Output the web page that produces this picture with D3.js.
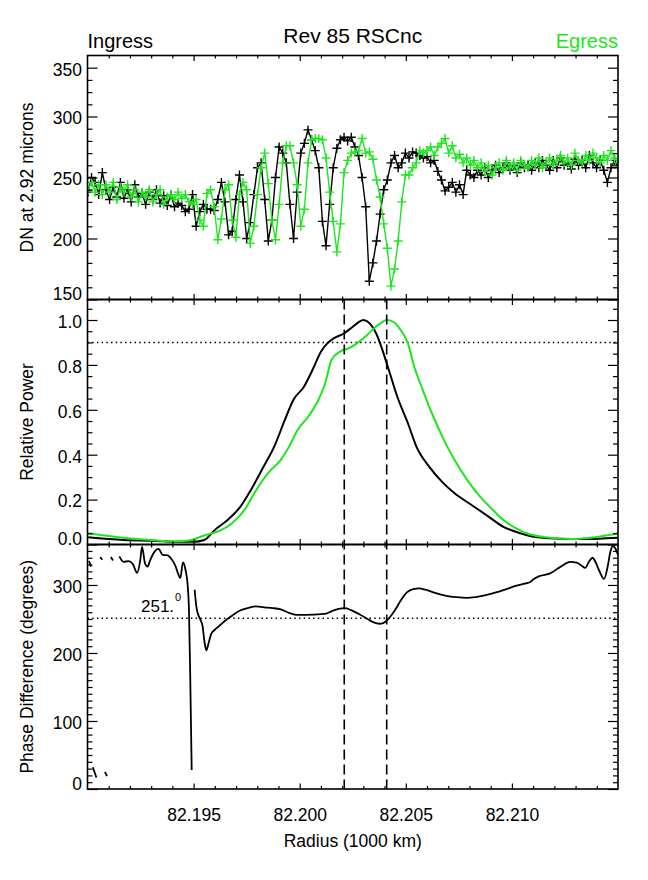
<!DOCTYPE html>
<html><head><meta charset="utf-8">
<script src="https://cdn.jsdelivr.net/npm/d3@7"></script>
<style>body{margin:0;background:#fff}svg{display:block}text{font-family:"Liberation Sans",Arial,Helvetica,sans-serif}</style>
</head><body><svg id="c" width="648" height="880"></svg>
<script>
// ---------- text ----------
const titleText = "Rev 85 RSCnc";
const ingressText = "Ingress";
const egressText = "Egress";
const xTitle = "Radius (1000 km)";
const yTitles = ["DN at 2.92 microns", "Relative Power", "Phase Difference (degrees)"];

// ---------- ticks ----------
const xDomain = [82.190, 82.215];
const xTickValues = [82.195, 82.200, 82.205, 82.210];
const xTickLabels = ["82.195", "82.200", "82.205", "82.210"];
const dnDomain = [150, 350];
const dnTickValues = [150, 200, 250, 300, 340];
const dnTickLabels = ["150", "200", "250", "300", "350"];
const powDomain = [0, 1.0913];
const powTickValues = [0, 0.2, 0.4, 0.6, 0.8, 1.0];
const powTickLabels = ["0.0", "0.2", "0.4", "0.6", "0.8", "1.0"];
const phDomain = [0, 359.5];
const phTickValues = [0, 100, 200, 300];
const phTickLabels = ["0", "100", "200", "300"];

// ---------- top panel: DN samples (uniform radius grid) ----------
const dnStart = 82.19002;
const dnStep = 0.00017;
const ingressDN = [238,250,246,236,254,240,232,242,234,246,
233,240,230,244,234,237,228,238,232,240,
229,235,227,236,226,229,227,222,224,236,
210,222,228,224,224,223,232,246,230,203,
206,232,252,230,200,213,236,258,262,232,
198,215,250,275,270,262,228,200,238,270,
278,289,281,272,258,214,194,228,258,274,
281,283,280,283,275,268,250,226,165,180,
198,220,240,248,262,268,258,262,270,266,
271,270,268,266,267,262,264,255,248,239,
242,246,238,244,236,256,252,250,256,252,
258,250,256,260,254,258,262,256,260,254,
262,258,260,256,262,258,264,260,256,264,
258,266,260,262,257,265,260,264,258,268,
262,258,264,256,246,258,264,258];
const egressDN = [240,246,238,244,236,244,238,246,232,242,
238,244,234,240,230,238,234,240,230,236,
240,228,234,236,232,238,233,236,230,228,
232,215,210,237,240,226,199,216,240,244,
215,201,236,246,240,196,210,236,258,270,
245,215,199,228,262,276,276,262,244,210,
224,262,281,282,282,281,266,238,214,189,
212,254,264,270,271,272,282,270,271,265,
248,234,212,192,161,175,198,230,252,252,
258,262,272,270,272,275,268,275,278,282,
270,276,266,269,262,266,260,264,258,262,
255,260,252,258,262,256,264,258,262,256,
264,260,258,264,260,266,258,262,266,260,
264,268,262,266,260,270,264,262,268,264,
270,266,262,268,264,272,266,262];

// ---------- middle panel: relative power ----------
const ingressPowerR = [82.1900,82.1917,82.1933,82.1940,82.1950,82.1955,82.1960,82.1966,82.1972,82.1977,82.1983,82.1988,82.1993,82.1997,82.2002,82.2006,82.2010,82.2013,82.2016,82.2021,82.2025,82.2028,82.2030,82.2033,82.2036,82.2039,82.2042,82.2046,82.2051,82.2055,82.2061,82.2067,82.2073,82.2081,82.2089,82.2096,82.2104,82.2112,82.2122,82.2131,82.2141,82.2150];
const ingressPower = [0.032,0.02,0.016,0.012,0.012,0.02,0.065,0.109,0.168,0.243,0.347,0.436,0.555,0.644,0.703,0.777,0.859,0.896,0.918,0.941,0.970,0.992,1.0,0.985,0.941,0.866,0.777,0.658,0.54,0.436,0.347,0.28,0.228,0.176,0.124,0.079,0.05,0.032,0.026,0.024,0.026,0.03];
const egressPowerR = [82.1900,82.1917,82.1933,82.1940,82.1948,82.1955,82.1962,82.1968,82.1974,82.1979,82.1985,82.1991,82.1995,82.1999,82.2004,82.2008,82.2012,82.2015,82.2019,82.2023,82.2027,82.2031,82.2035,82.2038,82.2041,82.2044,82.2047,82.2051,82.2054,82.2058,82.2063,82.2068,82.2073,82.2079,82.2085,82.2091,82.2096,82.2102,82.2108,82.2116,82.2128,82.2139,82.2150];
const egressPower = [0.05,0.03,0.018,0.013,0.018,0.04,0.06,0.094,0.154,0.235,0.317,0.376,0.436,0.51,0.569,0.629,0.718,0.822,0.859,0.874,0.896,0.926,0.963,0.985,1.0,0.993,0.963,0.896,0.792,0.688,0.569,0.465,0.376,0.287,0.213,0.154,0.109,0.072,0.047,0.032,0.024,0.032,0.05];
const powerLevel = 0.9;
const markerRadii = [82.2021, 82.2041];

// ---------- bottom panel: phase difference (null = gap) ----------
const phaseR = [82.19007,82.19017,null,82.19025,82.19042,null,82.1906,82.1907,null,82.19082,82.19092,null,82.1911,82.1912,null,
82.1915,82.1917,82.19193,82.19213,82.19234,82.19248,82.19257,82.19271,82.19283,82.19296,82.19316,82.19335,82.19355,82.19374,82.19394,82.19413,82.19429,82.19437,82.1945,82.19462,82.19472,82.19478,82.19484,82.19491,null,
82.19505,82.19513,82.19521,82.19532,82.19542,82.19552,82.1956,82.19571,82.19583,82.19599,82.19618,82.19647,82.19677,82.19716,82.19755,82.19794,82.19833,82.19872,82.19911,82.1995,82.19989,82.20067,82.20125,82.20154,82.20184,82.20213,82.20242,82.20281,82.2032,82.20349,82.20375,82.20394,82.20418,82.20447,82.20476,82.20505,82.20535,82.20564,82.20593,82.20642,82.20691,82.20739,82.20788,82.20827,82.20876,82.20925,82.20974,82.21022,82.2106,82.21085,82.211,82.2113,82.2118,82.2123,82.21275,82.21305,82.2133,82.21345,82.21365,82.2138,82.21395,82.2141,82.21435,82.2145,82.21465,82.21475,82.21487,82.215];
const phaseV = [335,327,null,32,17,null,341,337,null,25,19,null,341,336,null,
342,334,335,331,318,335,356,332,327,337,349,353,344,344,339,329,315,310,333,322,300,265,168,28,null,
293,268,257,249,240,215,204,215,228,234,239,247,254,262,266,268.5,267,266,264,259,256,256.5,258,262,265,266,263,257,250,245,243,244,250,262,277,289,294,295,293,288,284,282,281,282,285,289,294,299,302,304,308,313,317,327,334,333,328,325,335,340,333,322,309,325,350,357,354,344];
const phaseLevel = 251;
const phaseLevelLabel = "251.";
const phaseLevelSup = "0";

// ---------- drawing ----------
const svg = d3.select("#c");
const black = "#000", green = "#1ee61e";
const xL = 87.5, xR = 618;
const x = d3.scaleLinear(xDomain, [xL, xR]);
const yDN = d3.scaleLinear(dnDomain, [299.5, 55.5]);
const yPow = d3.scaleLinear(powDomain, [544.5, 299.5]);
const yPh = d3.scaleLinear(phDomain, [789, 544.5]);
const FS = 17.5;

function clip(id, y0, y1) {
  svg.append("clipPath").attr("id", id).append("rect")
    .attr("x", xL).attr("y", y0).attr("width", xR - xL).attr("height", y1 - y0);
}
clip("c1", 55.5, 299.5); clip("c2", 299.5, 544.5); clip("c3", 544.5, 789);

function styleAxis(g) {
  g.select(".domain").remove();
  g.selectAll("line").attr("stroke", black).attr("stroke-width", 1.2);
  g.selectAll("text").attr("font-family", '"Liberation Sans",Arial,sans-serif').attr("font-size", FS).attr("fill", black);
}

function yAxes(scale, major, labels, minor) {
  const lowest = d3.min(major);
  svg.append("g").attr("transform", `translate(${xL},0)`)
    .call(d3.axisLeft(scale).tickValues(minor).tickSize(-5).tickFormat("")).call(styleAxis);
  svg.append("g").attr("transform", `translate(${xR},0)`)
    .call(d3.axisRight(scale).tickValues(minor).tickSize(-5).tickFormat("")).call(styleAxis);
  const gl = svg.append("g").attr("transform", `translate(${xL},0)`)
    .call(d3.axisLeft(scale).tickValues(major).tickSize(-10).tickPadding(5.5).tickFormat((d, i) => labels[i])).call(styleAxis);
  gl.selectAll("text").attr("dy", d => d === lowest ? "0em" : "0.42em");
  svg.append("g").attr("transform", `translate(${xR},0)`)
    .call(d3.axisRight(scale).tickValues(major).tickSize(-10).tickFormat("")).call(styleAxis);
}

const xMinor = d3.range(82.191, 82.2145, 0.001).filter(v => !xTickValues.some(t => Math.abs(t - v) < 1e-6));
function xAxes(y0, y1, withLabels) {
  svg.append("g").attr("transform", `translate(0,${y0})`)
    .call(d3.axisTop(x).tickValues(xMinor).tickSize(-3).tickFormat("")).call(styleAxis);
  svg.append("g").attr("transform", `translate(0,${y0})`)
    .call(d3.axisTop(x).tickValues(xTickValues).tickSize(-5.5).tickFormat("")).call(styleAxis);
  svg.append("g").attr("transform", `translate(0,${y1})`)
    .call(d3.axisBottom(x).tickValues(xMinor).tickSize(-3).tickFormat("")).call(styleAxis);
  svg.append("g").attr("transform", `translate(0,${y1})`)
    .call(d3.axisBottom(x).tickValues(xTickValues).tickSize(-5.5).tickPadding(20)
      .tickFormat(withLabels ? (d, i) => xTickLabels[i] : "")).call(styleAxis);
}

// ----- top panel -----
const dnPts = (arr) => arr.map((v, i) => [dnStart + i * dnStep, v]);
const ing = dnPts(ingressDN), egr = dnPts(egressDN);
const line1 = d3.line().x(d => x(d[0])).y(d => yDN(d[1]));
const gTop = svg.append("g").attr("clip-path", "url(#c1)");
function series(data, color) {
  gTop.append("path").attr("d", line1(data)).attr("fill", "none").attr("stroke", color).attr("stroke-width", 1.4);
  gTop.append("g").selectAll("path").data(data).join("path")
    .attr("transform", d => `translate(${x(d[0])},${yDN(d[1])})`)
    .attr("d", "M-4.5,0H4.5M0,-4.5V4.5").attr("stroke", color).attr("stroke-width", 1.4).attr("fill", "none");
}
series(ing, black);
series(egr, green);

// ----- middle panel -----
const gMid = svg.append("g").attr("clip-path", "url(#c2)");
const line2 = d3.line().x(d => x(d[0])).y(d => yPow(d[1])).curve(d3.curveMonotoneX);
gMid.append("line").attr("x1", xL).attr("x2", xR).attr("y1", yPow(powerLevel)).attr("y2", yPow(powerLevel))
  .attr("stroke", black).attr("stroke-width", 1.5).attr("stroke-dasharray", "1.5,3.2");
gMid.append("path").attr("d", line2(ingressPowerR.map((r, i) => [r, ingressPower[i]])))
  .attr("fill", "none").attr("stroke", black).attr("stroke-width", 2);
gMid.append("path").attr("d", line2(egressPowerR.map((r, i) => [r, egressPower[i]])))
  .attr("fill", "none").attr("stroke", green).attr("stroke-width", 2);

// ----- bottom panel -----
const gBot = svg.append("g").attr("clip-path", "url(#c3)");
gBot.append("line").attr("x1", xL).attr("x2", xR).attr("y1", yPh(phaseLevel)).attr("y2", yPh(phaseLevel))
  .attr("stroke", black).attr("stroke-width", 1.5).attr("stroke-dasharray", "1.5,3.2");
const line3 = d3.line().defined(d => d[1] !== null).x(d => x(d[0])).y(d => yPh(d[1])).curve(d3.curveMonotoneX);
gBot.append("path").attr("d", line3(phaseR.map((r, i) => [r, phaseV[i]])))
  .attr("fill", "none").attr("stroke", black).attr("stroke-width", 1.8);

// dashed radius markers across middle and bottom panels
markerRadii.forEach(r => {
  svg.append("line").attr("x1", x(r)).attr("x2", x(r)).attr("y1", 299.5).attr("y2", 789)
    .attr("stroke", black).attr("stroke-width", 1.6).attr("stroke-dasharray", "10,5");
});

// label of phase level
svg.append("text").attr("x", 141).attr("y", 612).attr("font-size", 17).attr("fill", black).text(phaseLevelLabel);
svg.append("text").attr("x", 175).attr("y", 601).attr("font-size", 11).attr("fill", black).text(phaseLevelSup);

// axes
const range = (a, b, s) => d3.range(a, b + s / 2, s);
yAxes(yDN, dnTickValues, dnTickLabels, range(160, 330, 10).filter(v => v % 50 !== 0));
yAxes(yPow, powTickValues, powTickLabels, range(0.05, 1.05, 0.05).filter(v => Math.abs(v * 5 - Math.round(v * 5)) > 1e-6));
yAxes(yPh, phTickValues, phTickLabels, range(10, 350, 10).filter(v => v % 100 !== 0));
xAxes(55.5, 299.5, false);
xAxes(299.5, 544.5, false);
xAxes(544.5, 789, true);

// frames
[[55.5, 299.5], [299.5, 544.5], [544.5, 789]].forEach(([a, b]) => {
  svg.append("rect").attr("x", xL).attr("y", a).attr("width", xR - xL).attr("height", b - a)
    .attr("fill", "none").attr("stroke", black).attr("stroke-width", 1.6);
});

// titles
svg.append("text").attr("x", (xL + xR) / 2).attr("y", 43).attr("text-anchor", "middle").attr("font-size", 21).text(titleText);
svg.append("text").attr("x", xL).attr("y", 48).attr("font-size", 20).text(ingressText);
svg.append("text").attr("x", xR).attr("y", 48).attr("text-anchor", "end").attr("font-size", 20).attr("fill", green).text(egressText);
svg.append("text").attr("x", (xL + xR) / 2).attr("y", 846.5).attr("text-anchor", "middle").attr("font-size", FS).text(xTitle);
[[177.5], [422], [666.75]].forEach(([cy], i) => {
  svg.append("text").attr("transform", `translate(33,${cy}) rotate(-90)`).attr("text-anchor", "middle")
    .attr("font-size", FS).text(yTitles[i]);
});
</script></body></html>
